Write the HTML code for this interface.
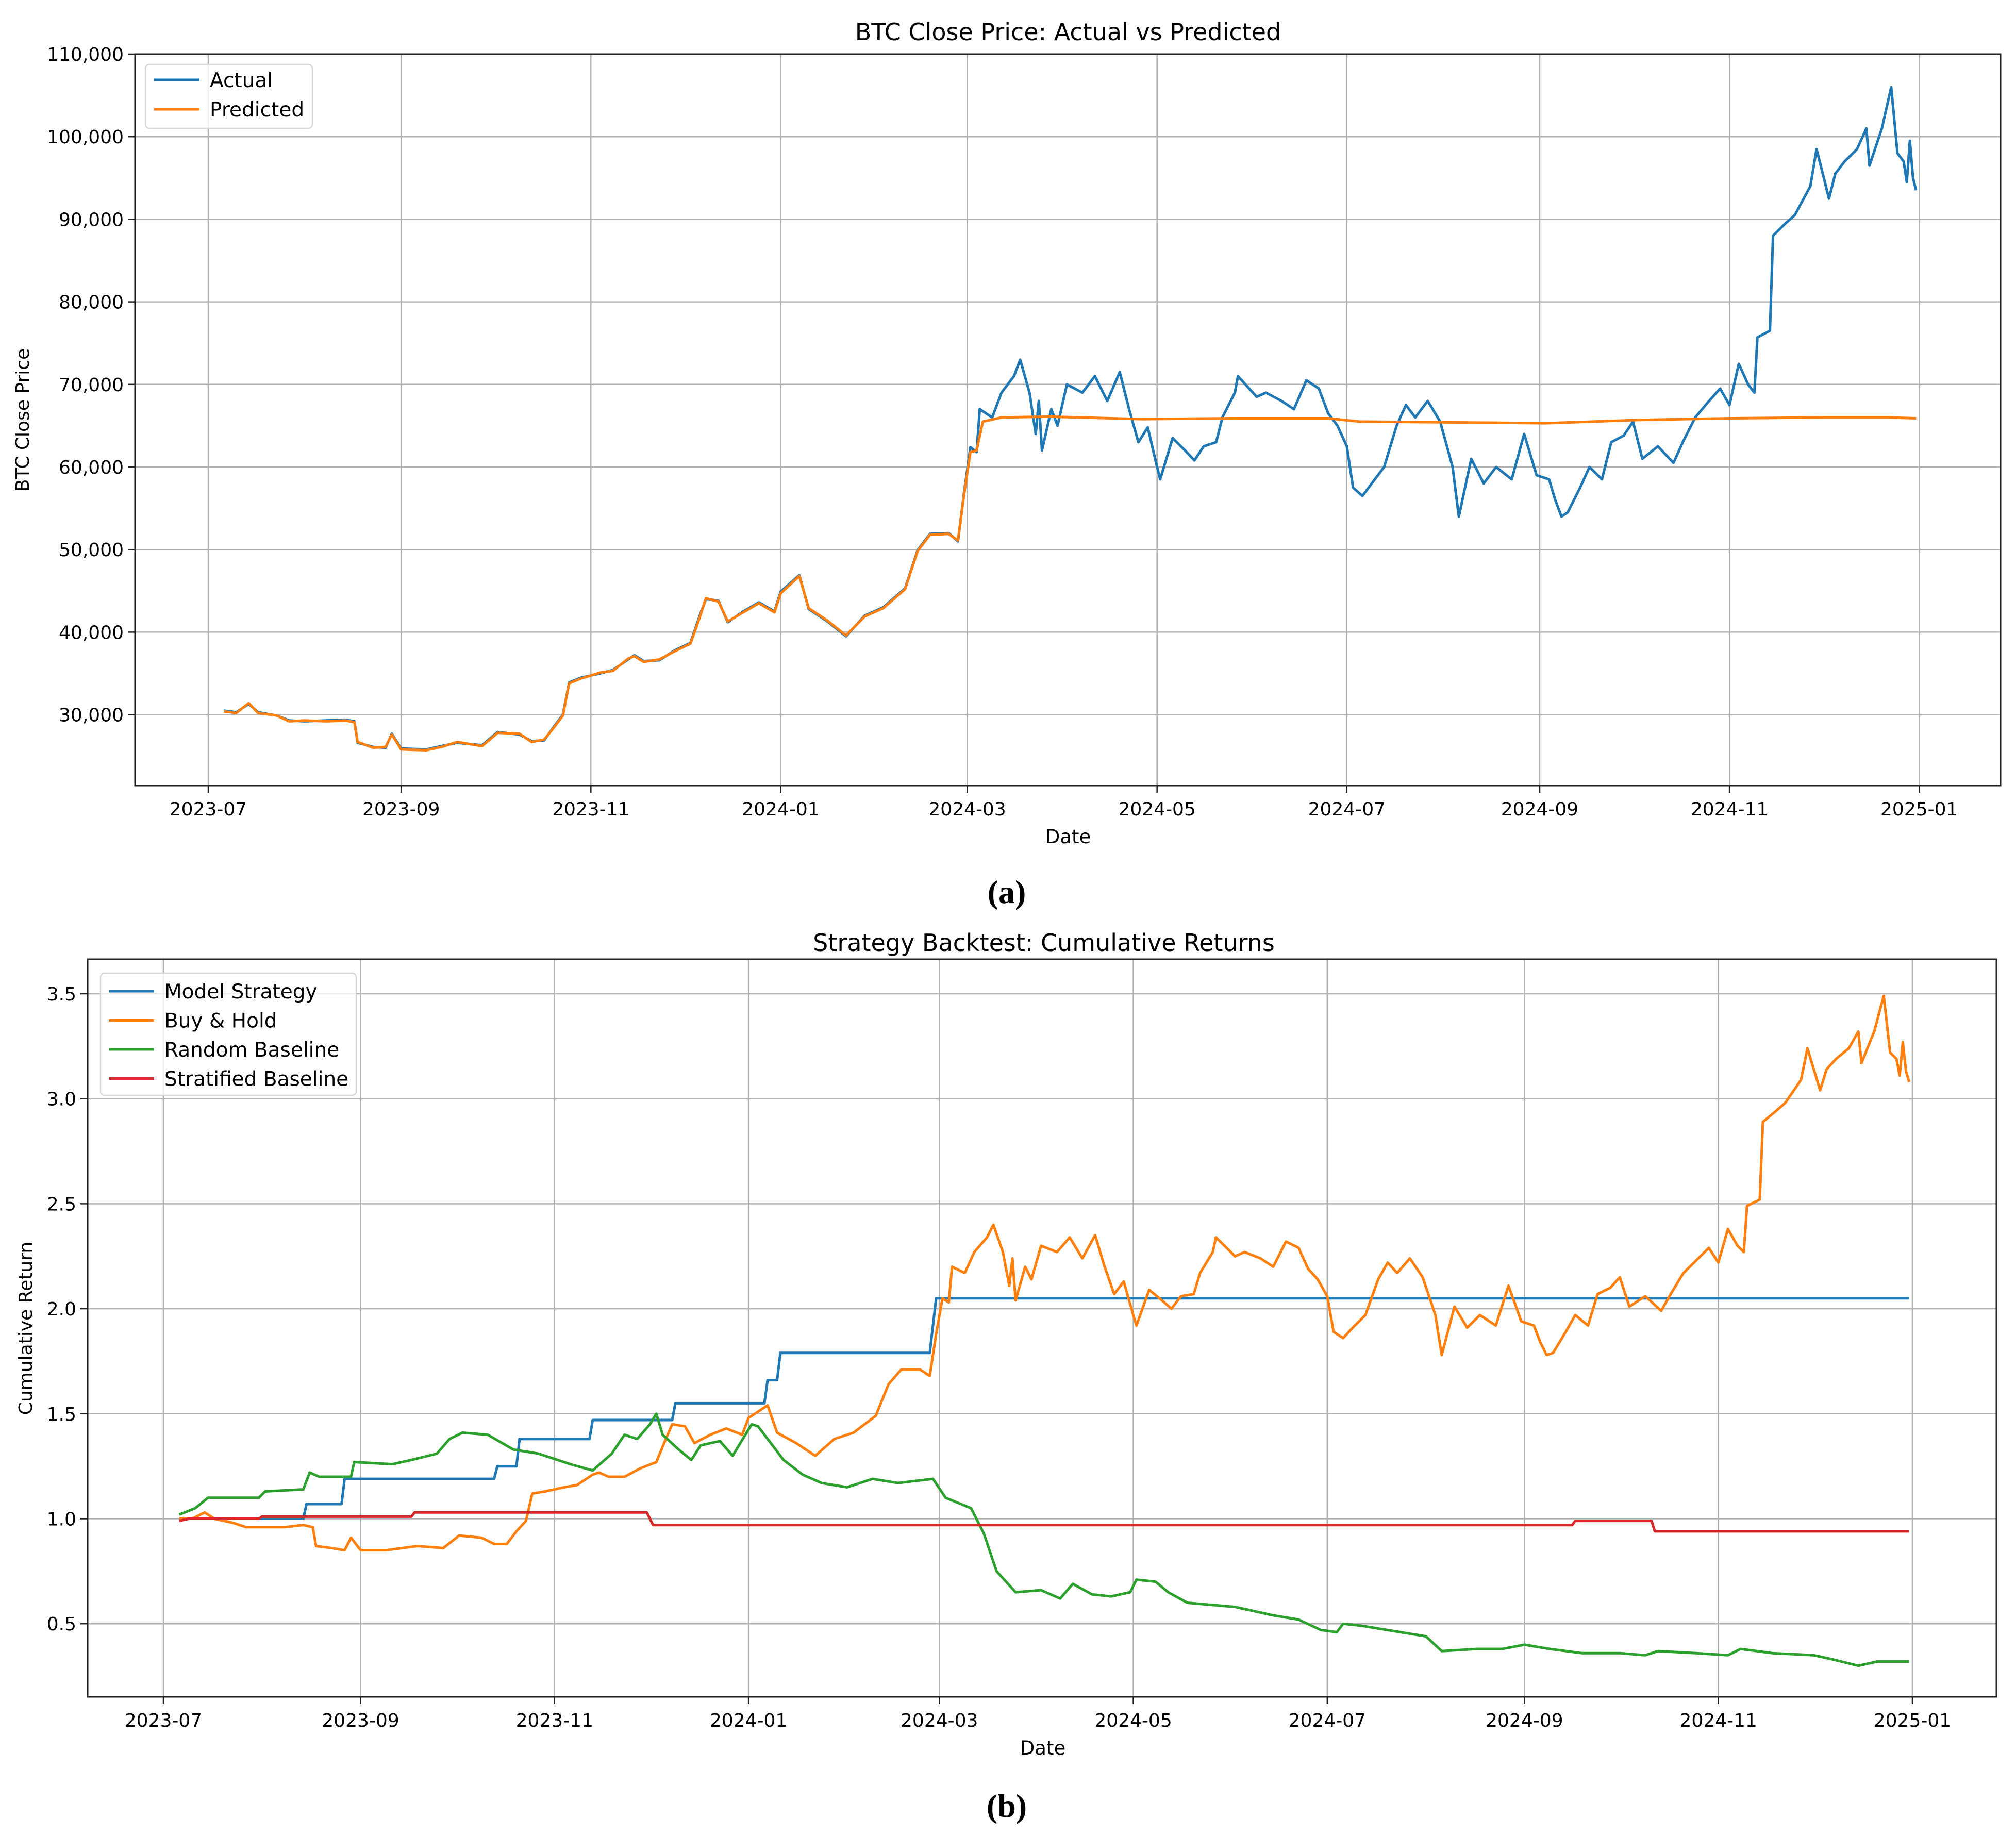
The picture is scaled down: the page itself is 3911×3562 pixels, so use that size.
<!DOCTYPE html>
<html><head><meta charset="utf-8"><style>
html,body{margin:0;padding:0;background:#fff;}
svg{display:block;font-family:"DejaVu Sans","Liberation Sans",sans-serif;}
</style></head><body>
<svg id="chart" width="3911" height="3562" viewBox="0 0 3911 3562" xmlns="http://www.w3.org/2000/svg"></svg>
<script>
// ---------- DATA ----------
const monthTicks = ["2023-07","2023-09","2023-11","2024-01","2024-03","2024-05","2024-07","2024-09","2024-11","2025-01"];
const monthTickDays = [0,62,123,184,244,305,366,428,489,550];
const priceTicks = [30000,40000,50000,60000,70000,80000,90000,100000,110000];
const returnTicks = [0.5,1.0,1.5,2.0,2.5,3.0,3.5];
// [dayOffset from 2023-07-01, value]
const actualSeries = [[5,30500],[9,30300],[13,31300],[16,30300],[22,29900],[26,29300],[31,29200],[38,29300],[44,29400],[47,29200],[48,26600],[53,26100],[57,26000],[59,27700],[62,25900],[70,25800],[75,26200],[80,26600],[88,26300],[93,27900],[100,27600],[104,26800],[108,26900],[111,28500],[114,30000],[116,33900],[120,34500],[126,35000],[130,35400],[135,36700],[137,37200],[140,36500],[145,36600],[150,37800],[155,38700],[158,42000],[160,44000],[164,43800],[167,41200],[172,42500],[177,43600],[182,42500],[184,44900],[190,46900],[193,42800],[199,41300],[205,39500],[211,42000],[217,43000],[224,45300],[228,49900],[232,51900],[238,52000],[241,51000],[243,57000],[245,62400],[247,61800],[248,67000],[252,66000],[255,69000],[259,71000],[261,73000],[264,69000],[266,64000],[267,68000],[268,62000],[271,67000],[273,65000],[276,70000],[281,69000],[285,71000],[289,68000],[293,71500],[296,67000],[299,63000],[302,64800],[305,60000],[306,58500],[310,63500],[314,62000],[317,60800],[320,62500],[324,63000],[326,66000],[330,69000],[331,71000],[337,68500],[340,69000],[345,68000],[349,67000],[353,70500],[357,69500],[360,66500],[363,65000],[366,62500],[368,57500],[371,56500],[374,58000],[378,60000],[382,65000],[385,67500],[388,66000],[392,68000],[396,65500],[400,60000],[402,54000],[406,61000],[410,58000],[414,60000],[419,58500],[423,64000],[427,59000],[431,58500],[433,56000],[435,54000],[437,54500],[441,57500],[444,60000],[448,58500],[451,63000],[455,63800],[458,65500],[461,61000],[466,62500],[471,60500],[474,63000],[478,66000],[482,67800],[486,69500],[489,67500],[492,72500],[495,70000],[497,69000],[498,75700],[502,76500],[503,88000],[507,89500],[510,90500],[515,94000],[517,98500],[521,92500],[523,95500],[526,97000],[530,98500],[533,101000],[534,96500],[538,101000],[541,106000],[543,98000],[545,97000],[546,94500],[547,99500],[548,95000],[549,93500]];
const predictedSeries = [[5,30400],[9,30200],[13,31400],[16,30200],[22,29900],[26,29200],[31,29300],[38,29200],[44,29300],[47,29100],[48,26700],[53,26000],[57,26100],[59,27600],[62,25800],[70,25700],[75,26100],[80,26700],[88,26200],[93,27800],[100,27700],[104,26700],[108,27000],[111,28400],[114,29900],[116,33800],[120,34400],[126,35100],[130,35300],[135,36800],[137,37100],[140,36400],[145,36700],[150,37700],[155,38600],[158,41800],[160,44100],[164,43700],[167,41300],[172,42400],[177,43500],[182,42400],[184,44700],[190,46800],[193,42900],[199,41400],[205,39600],[211,41900],[217,42900],[224,45200],[228,49800],[232,51800],[238,51900],[241,51100],[243,56800],[245,61800],[247,62000],[249,65500],[255,66000],[270,66100],[300,65800],[330,65900],[360,65900],[370,65500],[400,65400],[430,65300],[460,65700],[490,65900],[520,66000],[540,66000],[549,65900]];
const modelSeries = [[5,1.0],[44,1.0],[45,1.07],[56,1.07],[57,1.19],[104,1.19],[105,1.25],[111,1.25],[112,1.38],[134,1.38],[135,1.47],[160,1.47],[161,1.55],[189,1.55],[190,1.66],[193,1.66],[194,1.79],[241,1.79],[243,2.05],[549,2.05]];
const buyHoldSeries = [[5,1.00],[9,1.00],[13,1.03],[16,1.00],[22,0.98],[26,0.96],[31,0.96],[38,0.96],[44,0.97],[47,0.96],[48,0.87],[53,0.86],[57,0.85],[59,0.91],[62,0.85],[70,0.85],[75,0.86],[80,0.87],[88,0.86],[93,0.92],[100,0.91],[104,0.88],[108,0.88],[111,0.94],[114,0.99],[116,1.12],[120,1.13],[126,1.15],[130,1.16],[135,1.21],[137,1.22],[140,1.20],[145,1.20],[150,1.24],[155,1.27],[158,1.38],[160,1.45],[164,1.44],[167,1.36],[172,1.40],[177,1.43],[182,1.40],[184,1.48],[190,1.54],[193,1.41],[199,1.36],[205,1.30],[211,1.38],[217,1.41],[224,1.49],[228,1.64],[232,1.71],[238,1.71],[241,1.68],[243,1.88],[245,2.05],[247,2.03],[248,2.20],[252,2.17],[255,2.27],[259,2.34],[261,2.40],[264,2.27],[266,2.11],[267,2.24],[268,2.04],[271,2.20],[273,2.14],[276,2.30],[281,2.27],[285,2.34],[289,2.24],[293,2.35],[296,2.20],[299,2.07],[302,2.13],[305,1.97],[306,1.92],[310,2.09],[314,2.04],[317,2.00],[320,2.06],[324,2.07],[326,2.17],[330,2.27],[331,2.34],[337,2.25],[340,2.27],[345,2.24],[349,2.20],[353,2.32],[357,2.29],[360,2.19],[363,2.14],[366,2.06],[368,1.89],[371,1.86],[374,1.91],[378,1.97],[382,2.14],[385,2.22],[388,2.17],[392,2.24],[396,2.15],[400,1.97],[402,1.78],[406,2.01],[410,1.91],[414,1.97],[419,1.92],[423,2.11],[427,1.94],[431,1.92],[433,1.84],[435,1.78],[437,1.79],[441,1.89],[444,1.97],[448,1.92],[451,2.07],[455,2.10],[458,2.15],[461,2.01],[466,2.06],[471,1.99],[474,2.07],[478,2.17],[482,2.23],[486,2.29],[489,2.22],[492,2.38],[495,2.30],[497,2.27],[498,2.49],[502,2.52],[503,2.89],[507,2.94],[510,2.98],[515,3.09],[517,3.24],[521,3.04],[523,3.14],[526,3.19],[530,3.24],[533,3.32],[534,3.17],[538,3.32],[541,3.49],[543,3.22],[545,3.19],[546,3.11],[547,3.27],[548,3.13],[549,3.08]];
const randomSeries = [[5,1.02],[10,1.05],[14,1.10],[30,1.10],[32,1.13],[44,1.14],[46,1.22],[49,1.20],[59,1.20],[60,1.27],[72,1.26],[78,1.28],[86,1.31],[90,1.38],[94,1.41],[102,1.40],[110,1.33],[118,1.31],[128,1.26],[135,1.23],[141,1.31],[145,1.40],[149,1.38],[153,1.45],[155,1.50],[157,1.40],[162,1.33],[166,1.28],[169,1.35],[175,1.37],[179,1.30],[185,1.45],[187,1.44],[191,1.36],[195,1.28],[201,1.21],[207,1.17],[215,1.15],[223,1.19],[231,1.17],[242,1.19],[246,1.10],[254,1.05],[258,0.93],[262,0.75],[268,0.65],[276,0.66],[282,0.62],[286,0.69],[292,0.64],[298,0.63],[304,0.65],[306,0.71],[312,0.70],[316,0.65],[322,0.60],[337,0.58],[349,0.54],[357,0.52],[364,0.47],[369,0.46],[371,0.50],[377,0.49],[389,0.46],[397,0.44],[402,0.37],[413,0.38],[421,0.38],[428,0.40],[436,0.38],[446,0.36],[458,0.36],[466,0.35],[470,0.37],[482,0.36],[492,0.35],[496,0.38],[506,0.36],[519,0.35],[525,0.33],[533,0.30],[539,0.32],[549,0.32]];
const stratifiedSeries = [[5,0.99],[8,1.00],[30,1.00],[31,1.01],[78,1.01],[79,1.03],[152,1.03],[154,0.97],[443,0.97],[444,0.99],[468,0.99],[469,0.94],[549,0.94]];

// ---------- DRAWING ----------
const NS="http://www.w3.org/2000/svg";
const svg=document.getElementById('chart');
function mk(tag,attrs,parent){const e=document.createElementNS(NS,tag);for(const k in attrs)e.setAttribute(k,attrs[k]);(parent||svg).appendChild(e);return e;}
function txt(s,attrs,parent){const e=mk('text',attrs,parent);e.textContent=s;return e;}

const A={L:262,R:3881,T:105,B:1524, x0:404, xPerDay:6.035, yRef:110000, yRefPx:105, pxPerUnit:160.2/10000};
const Bx={L:170,R:3873,T:1861,B:3292, x0:317, xPerDay:6.169, yRef:3.5, yRefPx:1928, pxPerUnit:203.7/0.5};
function xs(ax,d){return ax.x0+d*ax.xPerDay;}
function ys(ax,v){return ax.yRefPx+(ax.yRef-v)*ax.pxPerUnit;}

function axes(ax,name,yt,fmt){
  const g=mk('g',{});
  
  
  monthTickDays.forEach((d,i)=>{
    const x=xs(ax,d);
    const gl=mk('line',{x1:x,x2:x,y1:ax.T,y2:ax.B,stroke:'#b0b0b0','stroke-width':2.5},g);
    
    
    mk('line',{x1:x,x2:x,y1:ax.B,y2:ax.B+14,stroke:'#222','stroke-width':2.5},g);
    const t=txt(monthTicks[i],{x:x,y:ax.B+58,'text-anchor':'middle','font-size':36,fill:'#000'},g);
    
    
  });
  yt.forEach(v=>{
    const y=ys(ax,v);
    const gl=mk('line',{x1:ax.L,x2:ax.R,y1:y,y2:y,stroke:'#b0b0b0','stroke-width':2.5},g);
    
    
    mk('line',{x1:ax.L-14,x2:ax.L,y1:y,y2:y,stroke:'#222','stroke-width':2.5},g);
    const t=txt(fmt(v),{x:ax.L-22,y:y+13,'text-anchor':'end','font-size':36,fill:'#000'},g);
    
    
  });
  return g;
}
function line(ax,series,color,name){
  const d=series.map((p,i)=>(i?'L':'M')+xs(ax,p[0]).toFixed(1)+','+ys(ax,p[1]).toFixed(1)).join(' ');
  const p=mk('path',{d:d,fill:'none',stroke:color,'stroke-width':5,'stroke-linejoin':'round'});
  
  
}
function frame(ax){
  mk('rect',{x:ax.L,y:ax.T,width:ax.R-ax.L,height:ax.B-ax.T,fill:'none',stroke:'#222','stroke-width':3});
}

// Top chart
axes(A,'price',priceTicks,v=>v.toLocaleString('en-US'));
line(A,actualSeries,'#1f77b4','actual-line');
line(A,predictedSeries,'#ff7f0e','predicted-line');
frame(A);
let t;
t=txt('BTC Close Price: Actual vs Predicted',{x:2072,y:78,'text-anchor':'middle','font-size':46});

t=txt('Date',{x:2072,y:1636,'text-anchor':'middle','font-size':37});

t=txt('BTC Close Price',{x:0,y:0,'text-anchor':'middle','font-size':36,transform:'translate(56,815) rotate(-90)'});

t=txt('(a)',{x:1953,y:1752,'text-anchor':'middle','font-size':64,'font-weight':'bold','font-family':'"Liberation Serif",serif'});


// top legend
const lg1=mk('g',{});


mk('rect',{x:282,y:125,width:324,height:124,rx:8,fill:'#fff','fill-opacity':0.8,stroke:'#d6d6d6','stroke-width':2.5},lg1);
[['Actual','#1f77b4'],['Predicted','#ff7f0e']].forEach((e,i)=>{
  const y=155+i*57;
  mk('line',{x1:299,x2:387,y1:y,y2:y,stroke:e[1],'stroke-width':5},lg1);
  const tt=txt(e[0],{x:407,y:y+14,'font-size':39},lg1);
  
  
});

// Bottom chart
axes(Bx,'returns',returnTicks,v=>v.toFixed(1));
line(Bx,modelSeries,'#1f77b4','model-strategy-line');
line(Bx,buyHoldSeries,'#ff7f0e','buy-hold-line');
line(Bx,randomSeries,'#2ca02c','random-baseline-line');
line(Bx,stratifiedSeries,'#d62728','stratified-baseline-line');
frame(Bx);
t=txt('Strategy Backtest: Cumulative Returns',{x:2025,y:1845,'text-anchor':'middle','font-size':46});

t=txt('Date',{x:2023,y:3404,'text-anchor':'middle','font-size':37});

t=txt('Cumulative Return',{x:0,y:0,'text-anchor':'middle','font-size':36,transform:'translate(62,2577) rotate(-90)'});

t=txt('(b)',{x:1953,y:3525,'text-anchor':'middle','font-size':64,'font-weight':'bold','font-family':'"Liberation Serif",serif'});


const lg2=mk('g',{});


mk('rect',{x:195,y:1888,width:496,height:237,rx:8,fill:'#fff','fill-opacity':0.8,stroke:'#d6d6d6','stroke-width':2.5},lg2);
[['Model Strategy','#1f77b4'],['Buy & Hold','#ff7f0e'],['Random Baseline','#2ca02c'],['Stratified Baseline','#d62728']].forEach((e,i)=>{
  const y=1923+i*56.5;
  mk('line',{x1:212,x2:299,y1:y,y2:y,stroke:e[1],'stroke-width':5},lg2);
  const tt=txt(e[0],{x:319,y:y+14,'font-size':39},lg2);
  
  
});
</script>
</body></html>
